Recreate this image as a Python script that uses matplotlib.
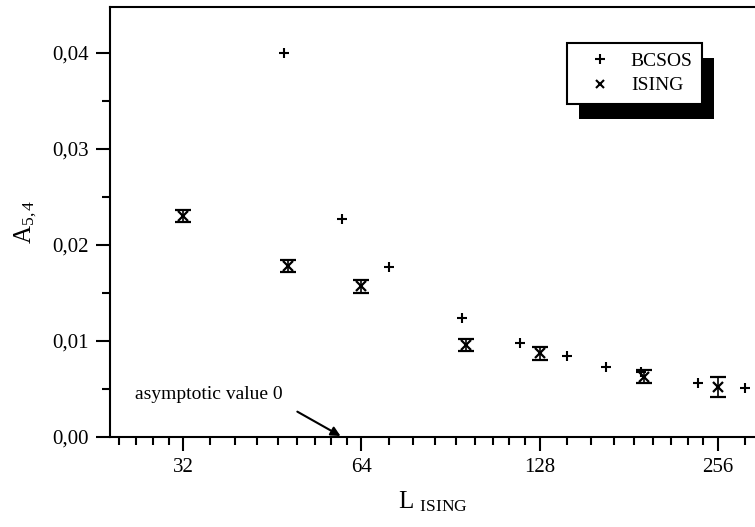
import numpy as np
import matplotlib
matplotlib.use('Agg')
from matplotlib import pyplot as plt
from matplotlib.lines import Line2D
from matplotlib.patches import Rectangle
from matplotlib.transforms import IdentityTransform
from matplotlib.ticker import FixedLocator, FuncFormatter

plt.rcParams['font.family'] = ['Liberation Serif', 'DejaVu Serif']
plt.rcParams['mathtext.fontset'] = 'custom'
plt.rcParams['mathtext.rm'] = 'Liberation Serif'
plt.rcParams['mathtext.it'] = 'Liberation Serif:italic'

# BCSOS data, plotted against the equivalent Ising size
bcsos_L = [47.4, 59.3, 71.1, 94.8, 118.5, 142.2, 165.9, 189.6, 237.0, 284.4]
bcsos_A = [0.0400, 0.0227, 0.0177, 0.0124, 0.0098, 0.0084, 0.0073, 0.0068, 0.0056, 0.0051]

# Ising data with error bars
ising_L = [32, 48, 64, 96, 128, 192, 256]
ising_A = [0.0230, 0.0178, 0.0157, 0.0096, 0.0087, 0.0063, 0.0052]
ising_err = [0.0006, 0.0006, 0.00065, 0.00065, 0.0007, 0.00065, 0.00105]

x_ticks = [32, 64, 128, 256]
y_ticks = [0.00, 0.01, 0.02, 0.03, 0.04]

fig = plt.figure(figsize=(7.55, 5.27), dpi=100)
ax = fig.add_axes([110 / 755, 90 / 527, 645 / 755, 430.5 / 527])

ax.plot(bcsos_L, bcsos_A, linestyle='none', marker='+', color='black',
        markersize=7, markeredgewidth=1.5)
ax.errorbar(ising_L, ising_A, yerr=ising_err, fmt='x', color='black',
            markersize=7, markeredgewidth=1.6, capsize=5.5, capthick=1.6,
            elinewidth=1.2)

ax.set_xscale('log', base=2)
ax.set_xlim(24.06, 295.8)
ax.set_ylim(0, 0.04484)

# major / minor ticks (8 linear minor ticks per octave)
ax.xaxis.set_major_locator(FixedLocator(x_ticks))
ax.xaxis.set_major_formatter(FuncFormatter(lambda v, p: f"{int(round(v))}"))
minor_x = np.concatenate([b + b * np.arange(1, 9) / 9 for b in [16, 32, 64, 128, 256]])
ax.xaxis.set_minor_locator(FixedLocator(minor_x))
ax.xaxis.set_minor_formatter(FuncFormatter(lambda v, p: ''))

ax.yaxis.set_major_locator(FixedLocator(y_ticks))
ax.yaxis.set_minor_locator(FixedLocator([0.005, 0.015, 0.025, 0.035]))
ax.yaxis.set_major_formatter(FuncFormatter(lambda v, p: f"{v:.2f}".replace('.', ',')))

ax.tick_params(axis='both', which='major', direction='out', length=10, width=1.5,
               labelsize=15, pad=5)
ax.tick_params(axis='both', which='minor', direction='out', length=6, width=1.5)
ax.tick_params(top=False, right=False, which='both')

for s in ['left', 'bottom', 'top']:
    ax.spines[s].set_linewidth(1.5)
ax.spines['right'].set_visible(False)

ax.set_xlabel(r'L $_{\mathrm{ISING}}$', fontsize=18, labelpad=9)
ax.set_ylabel(r'A$_{5,4}$', fontsize=18, labelpad=10)

# annotation
ax.annotate('asymptotic value 0', xy=(59, 0.0001), xytext=(26.5, 0.0044),
            fontsize=14, ha='left', va='center',
            arrowprops=dict(arrowstyle='-|>', color='black', lw=1.5,
                            mutation_scale=14, shrinkA=10, shrinkB=0,
                            relpos=(1.0, 0.0)))

# legend with a hard black shadow
handles = [Line2D([], [], linestyle='none', marker='+', color='black', markersize=7, markeredgewidth=1.5),
           Line2D([], [], linestyle='none', marker='x', color='black', markersize=6, markeredgewidth=1.5)]
leg = ax.legend(handles, ['BCSOS', 'ISING'], loc='upper left',
                bbox_to_anchor=(0.708, 0.916), borderaxespad=0, fancybox=False,
                framealpha=1, edgecolor='black', fontsize=14, handletextpad=0.4,
                borderpad=0.5, labelspacing=0.35, handlelength=2.4)
leg.get_frame().set_linewidth(1.5)
leg.set_zorder(5)

fig.canvas.draw()
bb = leg.get_window_extent()
shadow = Rectangle((bb.x0 + 12, bb.y0 - 15), bb.width, bb.height, transform=IdentityTransform(),
                   facecolor='black', edgecolor='none', zorder=4, clip_on=False)
ax.add_patch(shadow)

fig.savefig('out.png', dpi=100)
